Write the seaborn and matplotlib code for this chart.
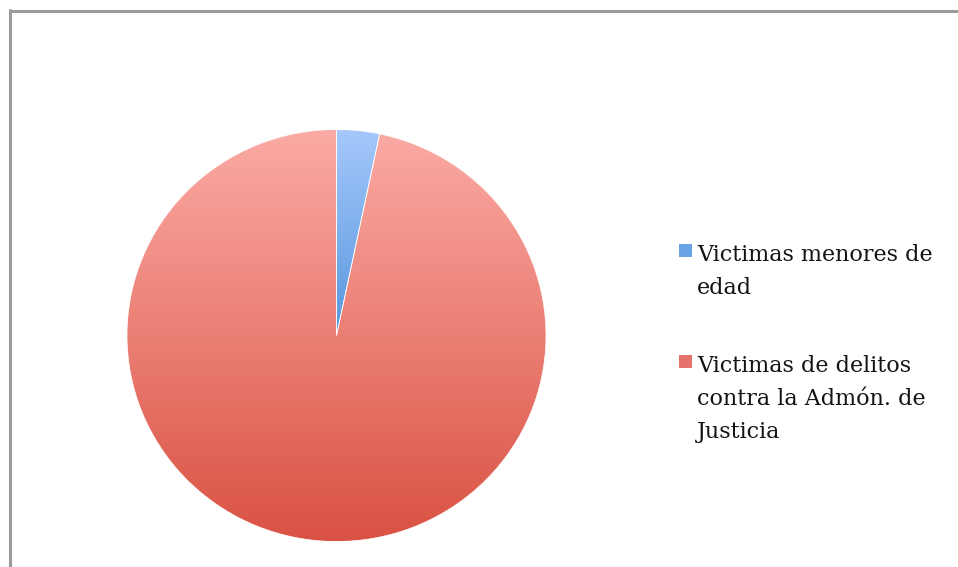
import numpy as np
import matplotlib
matplotlib.use("Agg")
import matplotlib.pyplot as plt
import seaborn as sns
from matplotlib.lines import Line2D
from matplotlib.patches import Rectangle
from matplotlib.colors import LinearSegmentedColormap

# ---- data ----
categories = ["Victimas menores de\nedad",
              "Victimas de delitos\ncontra la Admón. de\nJusticia"]
values = [3.3, 96.7]
top_colors = ["#a6c8fb", "#fbaba5"]
bottom_colors = ["#5797de", "#da5243"]
legend_colors = ["#6aa2e6", "#e6736b"]

sns.set_theme(style="white")
plt.rcParams['font.family'] = ['DejaVu Serif', 'Liberation Serif']

W, H = 958, 567
fig = plt.figure(figsize=(W / 100, H / 100), dpi=100)
fig.patch.set_facecolor("white")

cx, cy, rx, ry = 336.5, H - 335.5, 209.5, 206
ax = fig.add_axes([(cx - rx) / W, (cy - ry) / H, 2 * rx / W, 2 * ry / H])
wedges, _ = ax.pie(values, colors=legend_colors, startangle=90, counterclock=False,
                   radius=1, wedgeprops=dict(edgecolor="white", linewidth=0.5))
grad = np.linspace(0, 1, 256).reshape(-1, 1)
for w, tc, bc in zip(wedges, top_colors, bottom_colors):
    # gradient spans each slice's own vertical extent
    ext = w.get_path().transformed(w.get_patch_transform()).get_extents()
    cmap = LinearSegmentedColormap.from_list("g", [bc, tc])
    im = ax.imshow(grad, extent=(-1, 1, ext.y0, ext.y1), origin="lower", cmap=cmap,
                   aspect="auto", interpolation="bilinear", zorder=0.5)
    im.set_clip_path(w)
    w.set_facecolor("none")
ax.set_aspect("auto")
ax.set_xlim(-1, 1)
ax.set_ylim(-1, 1)
ax.axis("off")

# frame (top and left visible)
fig.add_artist(Line2D([9.5 / W, 1], [1 - 11 / H, 1 - 11 / H], color="#9a9a9a", lw=2.2,
                      transform=fig.transFigure))
fig.add_artist(Line2D([10 / W, 10 / W], [0, 1 - 10 / H], color="#9a9a9a", lw=2.2,
                      transform=fig.transFigure))

# legend (manual)
first_baselines = [261, 372]
line_step = 33
text_x = 697
for label, col, b0 in zip(categories, legend_colors, first_baselines):
    sq_top = b0 - 17
    fig.add_artist(Rectangle((679 / W, 1 - (sq_top + 13) / H), 13 / W, 13 / H,
                             transform=fig.transFigure, facecolor=col, edgecolor="none"))
    for i, line in enumerate(label.split("\n")):
        fig.text(text_x / W, 1 - (b0 + i * line_step) / H, line, fontsize=16,
                 color="#141414", ha="left", va="baseline")

fig.savefig("out.png", dpi=100)
